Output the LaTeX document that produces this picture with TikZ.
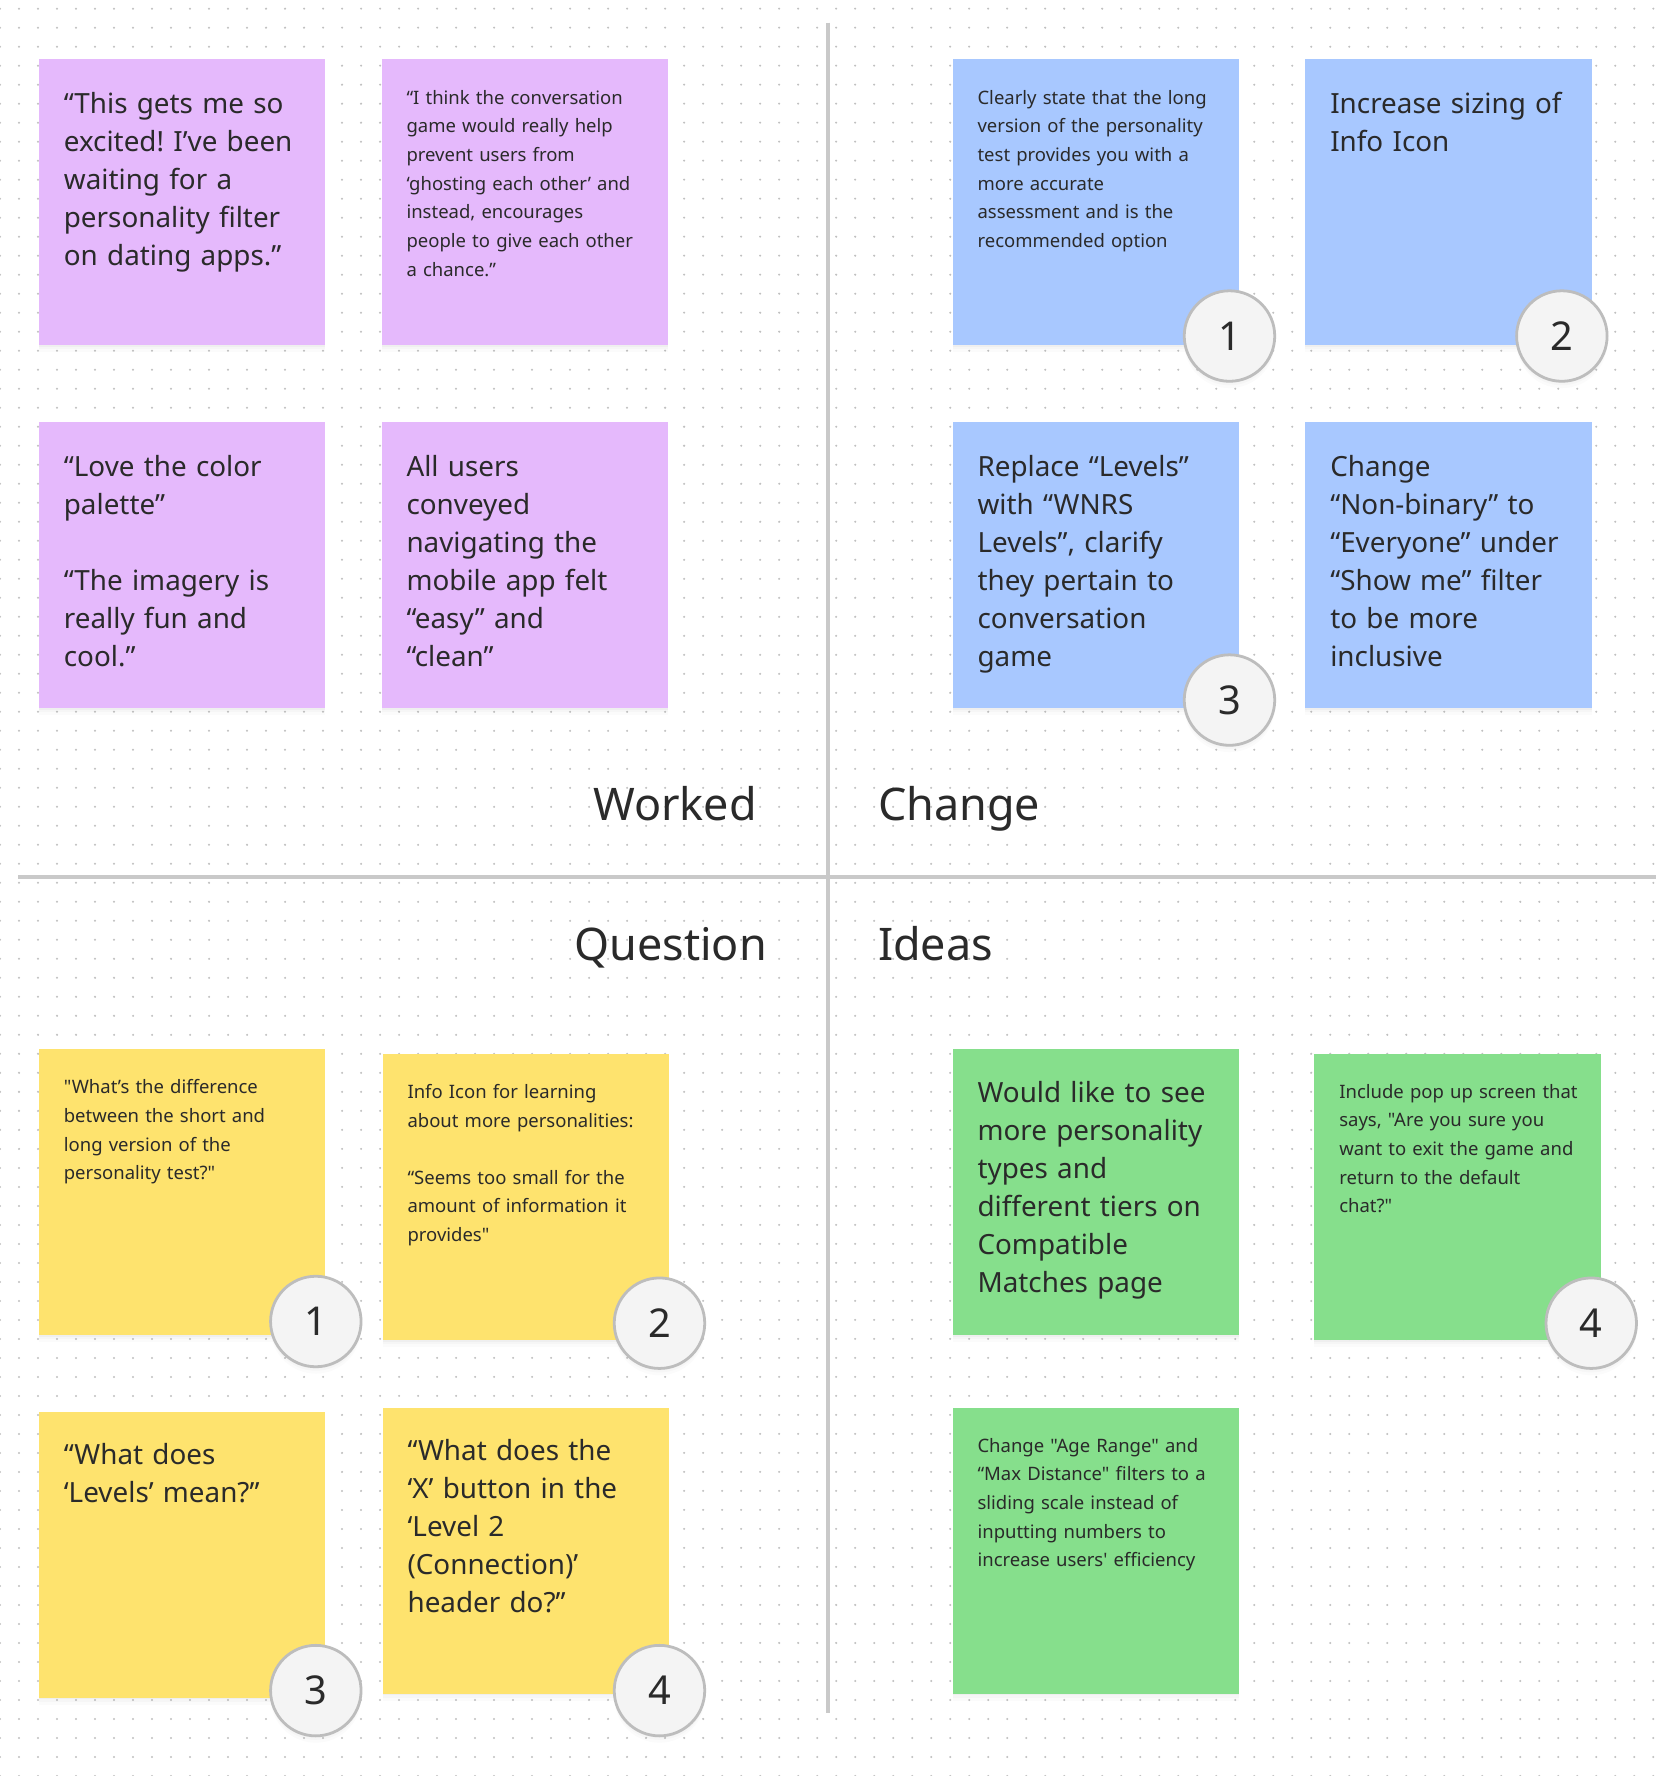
\documentclass[tikz,border=0pt]{standalone}
\usepackage{fontspec}
\setmainfont{Noto Sans}[Ligatures=TeXOff]
\usetikzlibrary{calc,shadows,patterns.meta}
\definecolor{stickypurple}{HTML}{E5B9FC}
\definecolor{stickyblue}{HTML}{A8C8FF}
\definecolor{stickyyellow}{HTML}{FEE36E}
\definecolor{stickygreen}{HTML}{86DF8C}
\definecolor{ink}{HTML}{2A2A2A}
\definecolor{dotgray}{HTML}{C0C0C0}
\definecolor{dividergray}{HTML}{C9C9C9}
\definecolor{badgefill}{HTML}{F4F4F4}
\definecolor{badgeline}{HTML}{BDBDBD}
\frenchspacing
\begin{document}
\begin{tikzpicture}[x=0.01cm, y=-0.01cm,
  softshadow/.style={ drop shadow={shadow xshift=0cm, shadow yshift=-0.015cm, opacity=0.05},
    drop shadow={shadow xshift=0cm, shadow yshift=-0.035cm, opacity=0.04},
    drop shadow={shadow xshift=0cm, shadow yshift=-0.06cm, opacity=0.03} },
  sticky/.style={ anchor=north west, inner sep=0, minimum width=2.53cm, minimum height=2.53cm, softshadow },
  bigtxt/.style={ anchor=north west, inner sep=0, text width=2.4cm, align=left, text=ink,
    font=\fontsize{7.0}{9.59}\selectfont },
  smalltxt/.style={ anchor=north west, inner sep=0, text width=2.4cm, align=left, text=ink,
    font=\fontsize{4.65}{7.2}\selectfont },
  badge/.style={ circle, draw=badgeline, line width=0.7pt, fill=badgefill, minimum size=0.8cm,
    inner sep=0, text=ink, font=\fontsize{10}{12}\selectfont, softshadow },
  heading/.style={ inner sep=0, text=ink, font=\fontsize{11.3}{13}\selectfont },
  divider/.style={ draw=dividergray, line width=1pt }
]%
%
% board
\useasboundingbox (0,0) rectangle (1470,1571);
\fill [ white ] (0,0) rectangle (1470,1571);
\fill [ pattern={Dots[distance=1.68mm, radius=0.1mm]}, pattern color=dotgray ] (0,0) rectangle (1470,1571);
%
\coordinate (vtop) at (732,20);
\coordinate (vbot) at (732,1515);
\coordinate (hleft) at (16,776);
\coordinate (hright) at (1465,776);
\draw [ divider ] (vtop) -- (vbot);
\draw [ divider ] (hleft) -- (hright);
%
% Worked
\node [ sticky, fill=stickypurple ] (w1) at (33.8,51.7) {};
\node [ sticky, fill=stickypurple ] (w2) at (336.9,51.7) {};
\node [ sticky, fill=stickypurple ] (w3) at (33.8,372.7) {};
\node [ sticky, fill=stickypurple ] (w4) at (336.9,372.7) {};
\node [ bigtxt ] (w1t) at ($(w1.north west)+(22,29)$) {“This gets me so\\excited! I’ve been\\waiting for a\\personality filter\\on dating apps.”};
\node [ smalltxt ] (w2t) at ($(w2.north west)+(22,27.5)$) {“I think the conversation\\game would really help\\prevent users from\\‘ghosting each other’ and\\instead, encourages\\people to give each other\\a chance.”};
\node [ bigtxt ] (w3t) at ($(w3.north west)+(22,29)$) {“Love the color\\palette”\\[9.59pt]“The imagery is\\really fun and\\cool.”};
\node [ bigtxt ] (w4t) at ($(w4.north west)+(22,29)$) {All users\\conveyed\\navigating the\\mobile app felt\\“easy” and\\“clean”};
\node [ heading, anchor=base east ] (worked) at (670,726) {Worked};
%
% Change
\node [ sticky, fill=stickyblue ] (c1) at (842,51.7) {};
\node [ sticky, fill=stickyblue ] (c2) at (1154,51.7) {};
\node [ sticky, fill=stickyblue ] (c3) at (842,372.7) {};
\node [ sticky, fill=stickyblue ] (c4) at (1154,372.7) {};
\node [ smalltxt ] (c1t) at ($(c1.north west)+(22,27.5)$) {Clearly state that the long\\version of the personality\\test provides you with a\\more accurate\\assessment and is the\\recommended option};
\node [ bigtxt ] (c2t) at ($(c2.north west)+(22,29)$) {Increase sizing of\\Info Icon};
\node [ bigtxt ] (c3t) at ($(c3.north west)+(22,29)$) {Replace “Levels”\\with “WNRS\\Levels”, clarify\\they pertain to\\conversation\\game};
\node [ bigtxt ] (c4t) at ($(c4.north west)+(22,29)$) {Change\\“Non-binary” to\\“Everyone” under\\“Show me” filter\\to be more\\inclusive};
\node [ badge ] (c1b) at ($(c1.south east)+(-9,-9)$) {1};
\node [ badge ] (c2b) at ($(c2.south east)+(-27,-9)$) {2};
\node [ badge ] (c3b) at ($(c3.south east)+(-9,-8)$) {3};
\node [ heading, anchor=base west ] (change) at (776,726) {Change};
%
% Question
\node [ sticky, fill=stickyyellow ] (q1) at (33.8,927.4) {};
\node [ sticky, fill=stickyyellow ] (q2) at (337.8,931.4) {};
\node [ sticky, fill=stickyyellow ] (q3) at (33.8,1247.9) {};
\node [ sticky, fill=stickyyellow ] (q4) at (337.8,1244.4) {};
\node [ smalltxt ] (q1t) at ($(q1.north west)+(22,27)$) {"What’s the difference\\between the short and\\long version of the\\personality test?"};
\node [ smalltxt ] (q2t) at ($(q2.north west)+(22,27)$) {Info Icon for learning\\about more personalities:\\[7.2pt]“Seems too small for the\\amount of information it\\provides"};
\node [ bigtxt ] (q3t) at ($(q3.north west)+(22,28)$) {“What does\\‘Levels’ mean?”};
\node [ bigtxt ] (q4t) at ($(q4.north west)+(22,28)$) {“What does the\\‘X’ button in the\\‘Level 2\\(Connection)’\\header do?”};
\node [ badge ] (q1b) at ($(q1.south east)+(-9,-13)$) {1};
\node [ badge ] (q2b) at ($(q2.south east)+(-9,-15.5)$) {2};
\node [ badge ] (q3b) at ($(q3.south east)+(-9,-7)$) {3};
\node [ badge ] (q4b) at ($(q4.south east)+(-9,-3.5)$) {4};
\node [ heading, anchor=base east ] (question) at (679,850) {Question};
%
% Ideas
\node [ sticky, fill=stickygreen ] (i1) at (842,927.4) {};
\node [ sticky, fill=stickygreen ] (i2) at (1162,931.4) {};
\node [ sticky, fill=stickygreen ] (i3) at (842,1244.4) {};
\node [ bigtxt ] (i1t) at ($(i1.north west)+(22,28)$) {Would like to see\\more personality\\types and\\different tiers on\\Compatible\\Matches page};
\node [ smalltxt ] (i2t) at ($(i2.north west)+(22,27)$) {Include pop up screen that\\says, "Are you sure you\\want to exit the game and\\return to the default\\chat?"};
\node [ smalltxt ] (i3t) at ($(i3.north west)+(22,27)$) {Change "Age Range" and\\“Max Distance" filters to a\\sliding scale instead of\\inputting numbers to\\increase users' efficiency};
\node [ badge ] (i2b) at ($(i2.south east)+(-9,-15.5)$) {4};
\node [ heading, anchor=base west ] (ideas) at (776,850) {Ideas};
%
\end{tikzpicture}
\end{document}
